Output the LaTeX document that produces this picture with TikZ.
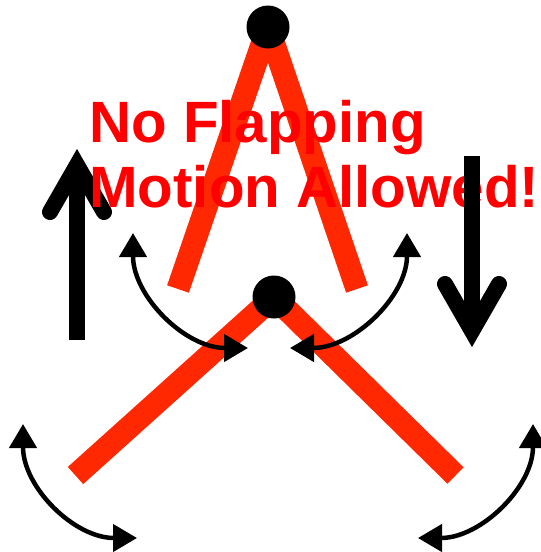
\documentclass[tikz,border=0pt]{standalone}
\usepackage{fontspec}
\setmainfont{Liberation Sans}
\usepackage{tikz}
\usetikzlibrary{arrows.meta}
\definecolor{wing}{RGB}{255,40,0}
\definecolor{notice}{RGB}{255,0,0}

\begin{document}
\begin{tikzpicture}[x=1pt, y=-1pt,
  wingbar/.style={line width=23pt, wing},
  swing/.style={line width=4.5pt, {Triangle[length=24pt,width=27pt]}-{Triangle[length=24pt,width=27pt]}},
  bigarrow/.style={line width=16pt, line cap=round, line join=miter},
  warning/.style={font=\fontsize{58.3}{65}\selectfont\bfseries, text=notice, inner sep=0pt, anchor=base west}]
\useasboundingbox (0,0) rectangle (541,552);
% ---- raised wings
\coordinate (upPivot) at (268,27);
\coordinate (upLeftTip) at (178,289);
\coordinate (upRightTip) at (357,289);
\draw[wingbar] (upPivot) -- (upLeftTip);
\draw[wingbar] (upPivot) -- (upRightTip);
% ---- lowered wings
\coordinate (downPivot) at (274,297);
\coordinate (downLeftTip) at (75.5,475.5);
\coordinate (downRightTip) at (455.5,475.5);
\draw[wingbar] (downPivot) -- (downLeftTip);
\draw[wingbar] (downPivot) -- (downRightTip);
\fill[black] (upPivot) circle (21.5);
\fill[black] (downPivot) circle (21.5);
% ---- swing arrows
\coordinate (ulTop) at (133,233);  \coordinate (ulEnd) at (248,348);
\coordinate (urTop) at (407,233);  \coordinate (urEnd) at (290,348);
\coordinate (llTop) at (23,424);   \coordinate (llEnd) at (137,538);
\coordinate (lrTop) at (533,424);  \coordinate (lrEnd) at (418,538);
\draw[swing] (ulTop) .. controls (133,296) and (185,348) .. (ulEnd);
\draw[swing] (urTop) .. controls (407,296) and (354,348) .. (urEnd);
\draw[swing] (llTop) .. controls (23,487) and (74,538) .. (llEnd);
\draw[swing] (lrTop) .. controls (533,487) and (481,538) .. (lrEnd);
% ---- up arrow (left)
\coordinate (upTail) at (77,340);
\coordinate (upHead) at (77,165);
\draw[line width=16pt] (upTail) -- (upHead);
\draw[bigarrow] (50,212) -- (upHead) -- (104,212);
% ---- text
\node[warning] (noLine) at (89,142) {No Flapping};
\node[warning] (motionLine) at (89,207) {Motion Allowed!};
% ---- down arrow (right)
\coordinate (downTail) at (472,156);
\coordinate (downHead) at (472,331);
\draw[line width=16pt] (downTail) -- (downHead);
\draw[bigarrow] (445,284) -- (downHead) -- (499,284);
\end{tikzpicture}
\end{document}
